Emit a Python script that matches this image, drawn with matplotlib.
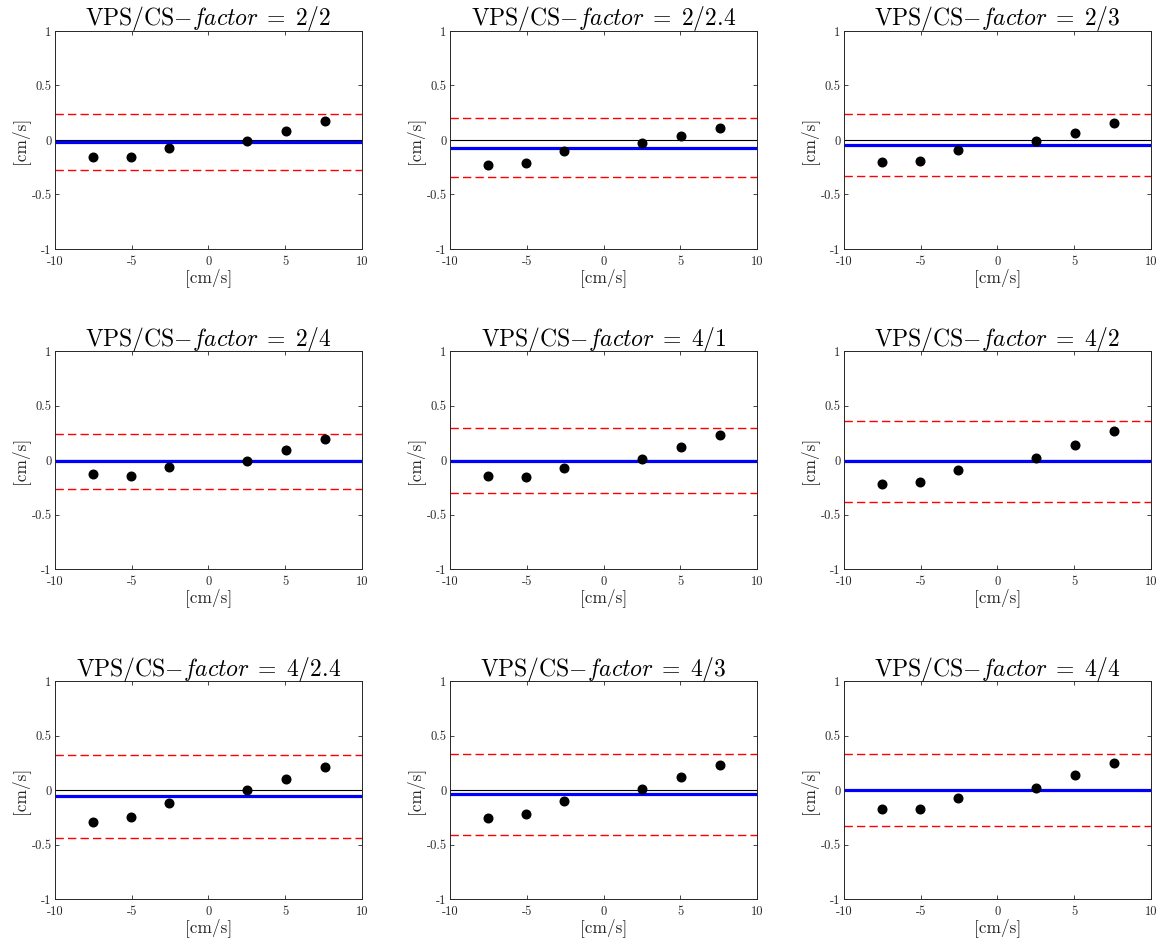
import numpy as np
import matplotlib
matplotlib.use('Agg')
import matplotlib.pyplot as plt

# panel titles (VPS/CS factors)
factors = ['2/2', '2/2.4', '2/3', '2/4', '4/1', '4/2', '4/2.4', '4/3', '4/4']

# reference velocities [cm/s]
velocities = [-7.55, -5.05, -2.55, 2.5, 5.05, 7.6]

# differences per panel [cm/s]
diff_22 = [-0.152, -0.159, -0.070, -0.012, 0.082, 0.174]
diff_224 = [-0.234, -0.213, -0.100, -0.030, 0.040, 0.112]
diff_23 = [-0.204, -0.192, -0.088, -0.012, 0.064, 0.152]
diff_24 = [-0.122, -0.143, -0.061, -0.006, 0.091, 0.192]
diff_41 = [-0.146, -0.152, -0.067, 0.009, 0.119, 0.232]
diff_42 = [-0.213, -0.195, -0.091, 0.021, 0.143, 0.265]
diff_424 = [-0.287, -0.247, -0.113, 0.000, 0.107, 0.210]
diff_43 = [-0.253, -0.220, -0.101, 0.009, 0.119, 0.229]
diff_44 = [-0.168, -0.168, -0.073, 0.018, 0.137, 0.253]
diffs = [diff_22, diff_224, diff_23, diff_24, diff_41, diff_42, diff_424, diff_43, diff_44]

# mean bias and limits of agreement per panel
bias = [-0.022, -0.070, -0.049, -0.008, -0.003, -0.010, -0.055, -0.034, 0.000]
upper_loa = [0.235, 0.200, 0.234, 0.244, 0.296, 0.363, 0.326, 0.335, 0.332]
lower_loa = [-0.280, -0.343, -0.326, -0.262, -0.299, -0.384, -0.436, -0.409, -0.332]

xticks = [-10, -5, 0, 5, 10]
xtick_labels = ['-10', '-5', '0', '5', '10']
yticks = [-1, -0.5, 0, 0.5, 1]
ytick_labels = ['-1', '-0.5', '0', '0.5', '1']

plt.rcParams['font.family'] = 'serif'
plt.rcParams['font.serif'] = ['cmr10']
plt.rcParams['mathtext.fontset'] = 'cm'
plt.rcParams['axes.unicode_minus'] = False

fig = plt.figure(figsize=(11.62, 9.47), dpi=100)

lefts = [0.0473, 0.3873, 0.7263]
bottoms = [0.7371, 0.3988, 0.0504]
w, h = 0.2642, 0.2302
axcol = '#262626'

for i in range(9):
    r, c = divmod(i, 3)
    ax = fig.add_axes([lefts[c], bottoms[r], w, h])

    ax.axhline(upper_loa[i], color='red', lw=1.0, ls=(0, (6, 3)))
    ax.axhline(lower_loa[i], color='red', lw=1.0, ls=(0, (6, 3)))
    ax.axhline(0, color='black', lw=0.8)
    ax.axhline(bias[i], color='blue', lw=2.3)
    ax.plot(velocities, diffs[i], 'o', color='black', markersize=6.2)

    ax.set_xlim(-10, 10)
    ax.set_ylim(-1, 1)
    ax.set_xticks(xticks)
    ax.set_xticklabels(xtick_labels)
    ax.set_yticks(yticks)
    ax.set_yticklabels(ytick_labels)
    ax.tick_params(direction='in', top=True, right=True, length=3, width=0.6,
                   labelsize=9, colors=axcol, labelcolor=axcol)
    ax.tick_params(axis='x', pad=5)
    ax.tick_params(axis='y', pad=2.5)
    for s in ax.spines.values():
        s.set_color(axcol)
        s.set_linewidth(0.7)

    ax.set_xlabel('[cm/s]', fontsize=12.5, color=axcol, labelpad=0)
    ax.set_ylabel('[cm/s]', fontsize=12.5, color=axcol, labelpad=2)
    ax.set_title(r'VPS/CS$-factor\;=\;' + factors[i] + '$', fontsize=17, pad=4)

fig.savefig('out.png', dpi=100)
